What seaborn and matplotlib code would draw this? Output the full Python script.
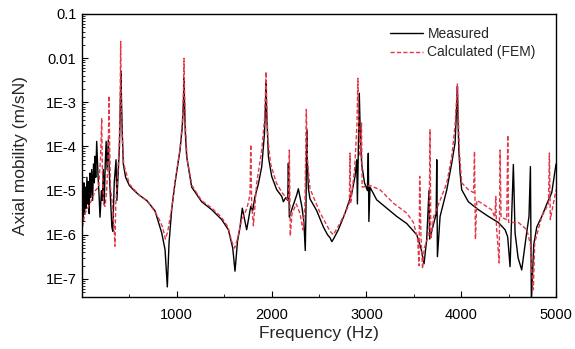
import numpy as np
import pandas as pd
import matplotlib
matplotlib.use("Agg")
import matplotlib.pyplot as plt
import seaborn as sns
from matplotlib.ticker import FixedLocator, FixedFormatter, LogLocator, NullFormatter

# ---- data ----
meas_freq = [5, 12, 20, 28, 36, 44, 52, 60, 68, 76, 84, 92, 102, 112, 122, 130, 137, 145, 155, 170,
             180, 190, 205, 215, 225, 235, 245, 255, 265, 278, 290, 302, 315, 325, 340, 359, 368, 380,
             395, 405, 411, 418, 425, 436, 460, 500, 541, 600, 682, 770, 841, 876, 900, 918, 946, 981,
             1034, 1058, 1070, 1076, 1082, 1090, 1104, 1157, 1262, 1368, 1474, 1544, 1590, 1614, 1640,
             1667, 1691, 1710, 1737, 1780, 1800, 1825, 1860, 1896, 1925, 1935, 1941, 1948, 1966, 2001,
             2054, 2107, 2124, 2150, 2170, 2177, 2187, 2212, 2265, 2282, 2318, 2340, 2355, 2362, 2370,
             2378, 2388, 2405, 2476, 2546, 2590, 2616, 2635, 2651, 2704, 2775, 2845, 2880, 2898, 2905,
             2915, 2925, 2935, 2950, 2980, 3010, 3020, 3026, 3038, 3108, 3214, 3320, 3425, 3531, 3575,
             3608, 3636, 3660, 3668, 3700, 3736, 3742, 3749, 3777, 3848, 3900, 3935, 3952, 3960, 3966,
             3975, 3988, 4005, 4075, 4181, 4287, 4392, 4463, 4490, 4515, 4550, 4568, 4600, 4638, 4690,
             4715, 4730, 4740, 4765, 4797, 4850, 4903, 4955, 5000]
meas_val = [8e-6, 2e-6, 1.5e-5, 3e-6, 1.2e-5, 4e-6, 2e-5, 5e-6, 1.6e-5, 3e-6, 2.5e-5, 7e-6, 3e-5, 6e-6,
            4e-5, 1.5e-5, 6e-5, 2e-5, 1.3e-4, 2e-5, 8e-6, 2.5e-6, 1e-5, 6e-6, 3e-5, 5e-6, 4e-5, 1.3e-4,
            3e-5, 1.4e-4, 2e-5, 6e-6, 1.5e-6, 1.2e-6, 1.5e-5, 5e-5, 6e-6, 2e-5, 1e-4, 1e-3, 5e-3, 8e-4,
            2e-4, 4e-5, 2e-5, 1.3e-5, 1.05e-5, 8e-6, 6e-6, 3.5e-6, 1.1e-6, 4.6e-7, 6.6e-8, 6.5e-7,
            3.7e-6, 1.5e-5, 8.3e-5, 2.8e-4, 1e-3, 3.5e-3, 8e-4, 2e-4, 5.9e-5, 1.2e-5, 5.6e-6, 3.7e-6,
            2.2e-6, 1.3e-6, 5e-7, 1.5e-7, 7e-7, 1.5e-6, 4e-6, 2.5e-6, 1.3e-6, 4.4e-6, 3.5e-6, 7.4e-6,
            1.4e-5, 3.5e-5, 2e-4, 8e-4, 3e-3, 6e-4, 5.9e-5, 2.1e-5, 1.05e-5, 7.4e-6, 5.6e-6, 7e-6,
            6e-6, 4.2e-5, 2.5e-6, 3.7e-6, 8e-6, 1.1e-5, 4.5e-6, 2e-6, 4.4e-7, 3e-6, 2.4e-4, 4e-5,
            1.1e-5, 6.5e-6, 3.5e-6, 1.5e-6, 1e-6, 8.6e-7, 7e-7, 7.9e-7, 1.3e-6, 3.1e-6, 8.6e-6,
            2.1e-5, 5e-5, 5e-6, 1e-4, 1.6e-3, 2e-4, 4e-5, 1.5e-5, 1e-5, 7e-5, 2e-6, 1.2e-5, 6.2e-6,
            4e-6, 2.6e-6, 1.8e-6, 1e-6, 5e-7, 2.2e-7, 7.9e-7, 1e-5, 8e-7, 1.5e-6, 3e-6, 5e-5, 3.2e-7,
            2.6e-6, 1.05e-5, 4.2e-5, 1.2e-4, 8e-4, 2.3e-3, 4e-4, 8e-5, 2.5e-5, 1.05e-5, 5.6e-6,
            3.7e-6, 2.6e-6, 1.9e-6, 1.3e-6, 9e-7, 1.9e-7, 3.9e-5, 1.1e-6, 3e-7, 1.6e-7, 1.1e-6,
            2.6e-6, 3.5e-5, 3e-8, 6e-7, 1.5e-6, 2.6e-6, 5e-6, 9e-6, 4e-5]

fem_freq = [5, 30, 60, 100, 140, 175, 195, 208, 215, 228, 243, 260, 275, 285, 292, 300, 320, 338, 348,
            356, 375, 392, 402, 408, 414, 425, 440, 500, 600, 700, 800, 850, 880, 905, 946, 985, 1035,
            1060, 1071, 1076, 1081, 1092, 1110, 1160, 1260, 1370, 1470, 1540, 1580, 1610, 1640, 1680,
            1740, 1772, 1780, 1790, 1808, 1843, 1896, 1925, 1935, 1941, 1948, 1960, 1990, 2050, 2110,
            2178, 2187, 2197, 2215, 2260, 2300, 2330, 2352, 2366, 2378, 2405, 2510, 2616, 2651, 2720,
            2792, 2820, 2827, 2834, 2875, 2900, 2910, 2920, 2935, 2948, 2955, 3038, 3143, 3285, 3425,
            3496, 3540, 3555, 3562, 3575, 3592, 3610, 3660, 3671, 3680, 3710, 3777, 3848, 3900, 3935,
            3953, 3960, 3967, 3980, 4005, 4075, 4130, 4140, 4150, 4165, 4214, 4320, 4355, 4365, 4372,
            4400, 4410, 4420, 4480, 4491, 4500, 4603, 4692, 4730, 4745, 4761, 4775, 4850, 4920, 4930,
            4940, 5000]
fem_val = [1.5e-6, 3e-6, 4e-6, 6e-6, 1e-5, 1.2e-5, 5e-5, 4.4e-4, 3e-5, 5e-6, 4.4e-6, 1e-5, 5e-5, 1.4e-3,
           1e-4, 1.2e-5, 5e-6, 1.5e-6, 5.5e-7, 5e-6, 2e-5, 1e-4, 1e-3, 2.4e-2, 1e-3, 1.5e-4, 4e-5,
           1.4e-5, 8e-6, 5.5e-6, 2.6e-6, 1.5e-6, 8e-7, 1.2e-6, 4e-6, 1.7e-5, 9e-5, 4e-4, 2e-3, 9.9e-3,
           2e-3, 2.5e-4, 5e-5, 1.3e-5, 6e-6, 4e-6, 2.5e-6, 1.5e-6, 7e-7, 5e-7, 8e-7, 2e-6, 4e-6, 8e-6,
           1.1e-4, 5e-6, 1.6e-6, 1.5e-5, 8.3e-5, 4e-4, 1.5e-3, 4.9e-3, 1e-3, 1.5e-4, 4e-5, 1.5e-5,
           9e-6, 6e-6, 8.3e-5, 9.4e-7, 3e-6, 5e-6, 3e-6, 1.3e-6, 5e-6, 6.9e-4, 5e-5, 1.1e-5, 3.2e-6,
           1.2e-6, 1e-6, 1.8e-6, 3.7e-6, 5.2e-6, 7.1e-5, 5.2e-6, 3e-5, 3e-4, 3.5e-3, 3e-4, 5.9e-5,
           3.4e-4, 1.2e-5, 1.3e-5, 1.05e-5, 5.2e-6, 3.1e-6, 1.9e-6, 8e-7, 2e-7, 2.1e-5, 1e-6, 1.7e-7,
           5e-7, 1e-6, 2.4e-4, 8e-7, 2.6e-6, 6e-6, 1.5e-5, 5.9e-5, 3e-4, 1.5e-3, 2.6e-3, 8e-4, 8e-5,
           1.5e-5, 1.05e-5, 9e-6, 7.7e-5, 7.9e-7, 6e-6, 5.2e-6, 3.7e-6, 2.5e-6, 7.4e-6, 1.5e-6, 2.3e-7,
           8.3e-5, 2.5e-6, 2.2e-6, 1.8e-4, 1.9e-6, 1.9e-6, 1.3e-6, 6e-7, 1.5e-7, 5.7e-8, 6.5e-7,
           2.6e-6, 5e-6, 7.1e-5, 2.2e-6, 1.05e-5]

series_names = ["Measured", "Calculated (FEM)"]
x_ticks = [1000, 2000, 3000, 4000, 5000]
y_ticks = [1e-7, 1e-6, 1e-5, 1e-4, 1e-3, 1e-2, 1e-1]
y_tick_labels = ["1E-7", "1E-6", "1E-5", "1E-4", "1E-3", "0.01", "0.1"]

df = pd.concat([
    pd.DataFrame({"Frequency": meas_freq, "Mobility": meas_val, "series": series_names[0]}),
    pd.DataFrame({"Frequency": fem_freq, "Mobility": fem_val, "series": series_names[1]}),
], ignore_index=True)

# ---- style ----
sns.set_style("ticks")
plt.rcParams["font.family"] = ["Liberation Sans", "DejaVu Sans"]

fig = plt.figure(figsize=(5.75, 3.49), dpi=100)
ax = fig.add_axes([0.1426, 0.149, 0.8244, 0.811])

sns.lineplot(data=df, x="Frequency", y="Mobility", hue="series", style="series",
             hue_order=series_names, style_order=series_names,
             palette={series_names[0]: "black", series_names[1]: "#e2384a"},
             dashes={series_names[0]: "", series_names[1]: (3, 1.6)},
             estimator=None, sort=False, linewidth=1.0, ax=ax)

ax.set_yscale("log")
ax.set_xlim(0, 5000)
ax.set_ylim(3.9e-8, 0.1)

ax.xaxis.set_major_locator(FixedLocator(x_ticks))
ax.xaxis.set_minor_locator(FixedLocator([500, 1500, 2500, 3500, 4500]))
ax.yaxis.set_major_locator(FixedLocator(y_ticks))
ax.yaxis.set_major_formatter(FixedFormatter(y_tick_labels))
ax.yaxis.set_minor_locator(LogLocator(base=10, subs=np.arange(2, 10)))
ax.yaxis.set_minor_formatter(NullFormatter())

ax.tick_params(axis="both", which="both", direction="in", labelsize=10.5, colors="black")
ax.tick_params(axis="both", which="major", length=4, width=0.8)
ax.tick_params(axis="both", which="minor", length=2, width=0.6)
ax.tick_params(axis="x", pad=8)
ax.tick_params(axis="y", pad=4)

for s in ax.spines.values():
    s.set_linewidth(1.0)
    s.set_color("black")

ax.set_xlabel("Frequency (Hz)", fontsize=12.5, labelpad=3)
ax.set_ylabel("Axial mobility (m/sN)", fontsize=12.5, labelpad=13)

leg = ax.legend(loc="upper right", bbox_to_anchor=(0.975, 0.985), frameon=False,
                fontsize=10, handlelength=2.4, handletextpad=0.3, labelspacing=0.35,
                borderaxespad=0.2)

fig.savefig("out.png", dpi=100)
